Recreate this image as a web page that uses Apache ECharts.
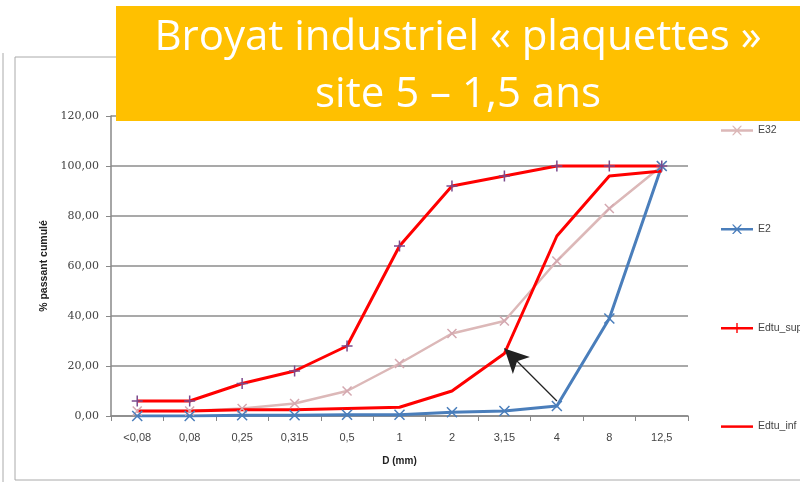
<!DOCTYPE html>
<html>
<head>
<meta charset="utf-8">
<script src="https://cdn.jsdelivr.net/npm/echarts@6/dist/echarts.min.js"></script>
<style>
  html, body { margin: 0; padding: 0; background: #fff; }
  #main { width: 800px; height: 482px; }
</style>
</head>
<body>
<div id="main"></div>
<script>
// tamis (mm)
var categories = ['<0,08', '0,08', '0,25', '0,315', '0,5', '1', '2', '3,15', '4', '8', '12,5'];
var e32 = [2, 2, 3, 5, 10, 21, 33, 38, 62, 83, 100];
var e2 = [0, 0, 0.3, 0.3, 0.5, 0.5, 1.5, 2, 4, 39, 100];
var edtuSup = [6, 6, 13, 18, 28, 68, 92, 96, 100, 100, 100];
var edtuInf = [2, 2, 2.5, 2.5, 3, 3.5, 10, 25, 72, 96, 98];
var seriesNames = ['E32', 'E2', 'Edtu_sup', 'Edtu_inf'];

var PLUS = 'path://M0,-10L0,10M-10,0L10,0';
var CROSS = 'path://M-10,-10L10,10M-10,10L10,-10';
var DASH = 'path://M-10,0L10,0';

// icônes de légende (remplies) : trait + marqueur
var ICON_LINE = 'M0,5L32,5L32,7.5L0,7.5Z';
var ICON_CROSS = ICON_LINE + 'M11,1.5L12.5,1.5L16,5L19.5,1.5L21,1.5L17,6.2L21,11L19.5,11L16,7.5L12.5,11L11,11L15,6.2Z';
var ICON_PLUS = ICON_LINE + 'M15.3,1L16.7,1L16.7,11L15.3,11Z';
var legendIcons = ['path://' + ICON_CROSS, 'path://' + ICON_CROSS, 'path://' + ICON_PLUS, 'path://' + ICON_LINE];

var myChart = echarts.init(document.getElementById('main'));

function serie(name, data, color, width, symbol, markColor, size) {
    return {
        name: name,
        type: 'line',
        data: data,
        symbol: symbol,
        symbolSize: size,
        showSymbol: true,
        lineStyle: { color: color, width: width },
        itemStyle: { color: color, borderColor: markColor, borderWidth: 1.5 },
        emphasis: { disabled: true },
        z: 3
    };
}

var series = [
    serie('E32', e32, '#dcb8b8', 2.5, CROSS, '#d4a8b0', 9),
    serie('E2', e2, '#4a7ebb', 3, CROSS, '#4a7ebb', 10),
    serie('Edtu_sup', edtuSup, '#ff0000', 3, PLUS, '#7b4a8c', 11),
    serie('Edtu_inf', edtuInf, '#ff0000', 3, DASH, '#3cb0a8', 8)
];
// flèche annotation
series[1].markLine = {
    silent: true,
    symbol: ['none', 'arrow'],
    symbolSize: [18, 24],
    label: { show: false },
    lineStyle: { color: '#222', width: 1.2, type: 'solid' },
    data: [[{ coord: ['4', 6] }, { coord: ['3,15', 27] }]]
};

var option = {
    backgroundColor: '#fff',
    animation: false,
    textStyle: { fontFamily: 'Liberation Sans, Arial, sans-serif' },
    grid: { left: 111, right: 112, top: 116, bottom: 66, containLabel: false },
    legend: {
        orient: 'vertical',
        left: 716,
        top: 120,
        itemGap: 87.7,
        itemWidth: 32,
        itemHeight: 12,
        itemStyle: { borderWidth: 0 },
        textStyle: { fontSize: 10.5, color: '#444' },
        data: seriesNames.map(function (n, i) { return { name: n, icon: legendIcons[i] }; })
    },
    xAxis: {
        type: 'category',
        data: categories,
        boundaryGap: true,
        name: 'D (mm)',
        nameLocation: 'middle',
        nameGap: 40,
        nameTextStyle: { fontSize: 10, fontWeight: 'bold', color: '#222' },
        axisLine: { lineStyle: { color: '#888', width: 1.5 } },
        axisTick: { show: true, alignWithLabel: false, length: 5, lineStyle: { color: '#888' } },
        axisLabel: { fontSize: 11, color: '#444', margin: 16 }
    },
    yAxis: {
        type: 'value',
        min: 0,
        max: 120,
        interval: 20,
        name: '% passant cumulé',
        nameLocation: 'middle',
        nameGap: 60,
        nameRotate: 90,
        nameTextStyle: { fontSize: 10.5, fontWeight: 'bold', color: '#222' },
        axisLine: { show: true, lineStyle: { color: '#888', width: 1.5 } },
        axisTick: { show: true, length: 5, lineStyle: { color: '#888' } },
        axisLabel: {
            fontSize: 11,
            color: '#444',
            margin: 12,
            fontFamily: 'DejaVu Serif, serif',
            formatter: function (v) { return v.toFixed(2).replace('.', ','); }
        },
        splitLine: { lineStyle: { color: '#8c8c8c', width: 1.5 } }
    },
    graphic: [
        { type: 'line', shape: { x1: 3, y1: 53, x2: 3, y2: 482 }, style: { stroke: '#aaa', lineWidth: 1 }, z: 0 },
        { type: 'rect', shape: { x: 15, y: 57, width: 800, height: 423 }, style: { fill: 'none', stroke: '#aaa', lineWidth: 1 }, z: 0 },
        { type: 'rect', shape: { x: 116, y: 6, width: 690, height: 115 }, style: { fill: '#ffc000' }, z: 100 },
        {
            type: 'text', x: 458, y: 38, z: 101,
            style: {
                text: 'Broyat industriel « plaquettes »',
                align: 'center', verticalAlign: 'middle',
                fill: '#fff', fontSize: 42,
                fontFamily: 'Open Sans, sans-serif'
            }
        },
        {
            type: 'text', x: 458, y: 95, z: 101,
            style: {
                text: 'site 5 – 1,5 ans',
                align: 'center', verticalAlign: 'middle',
                fill: '#fff', fontSize: 42,
                fontFamily: 'Open Sans, sans-serif'
            }
        }
    ],
    series: series
};

myChart.setOption(option);
</script>
</body>
</html>
